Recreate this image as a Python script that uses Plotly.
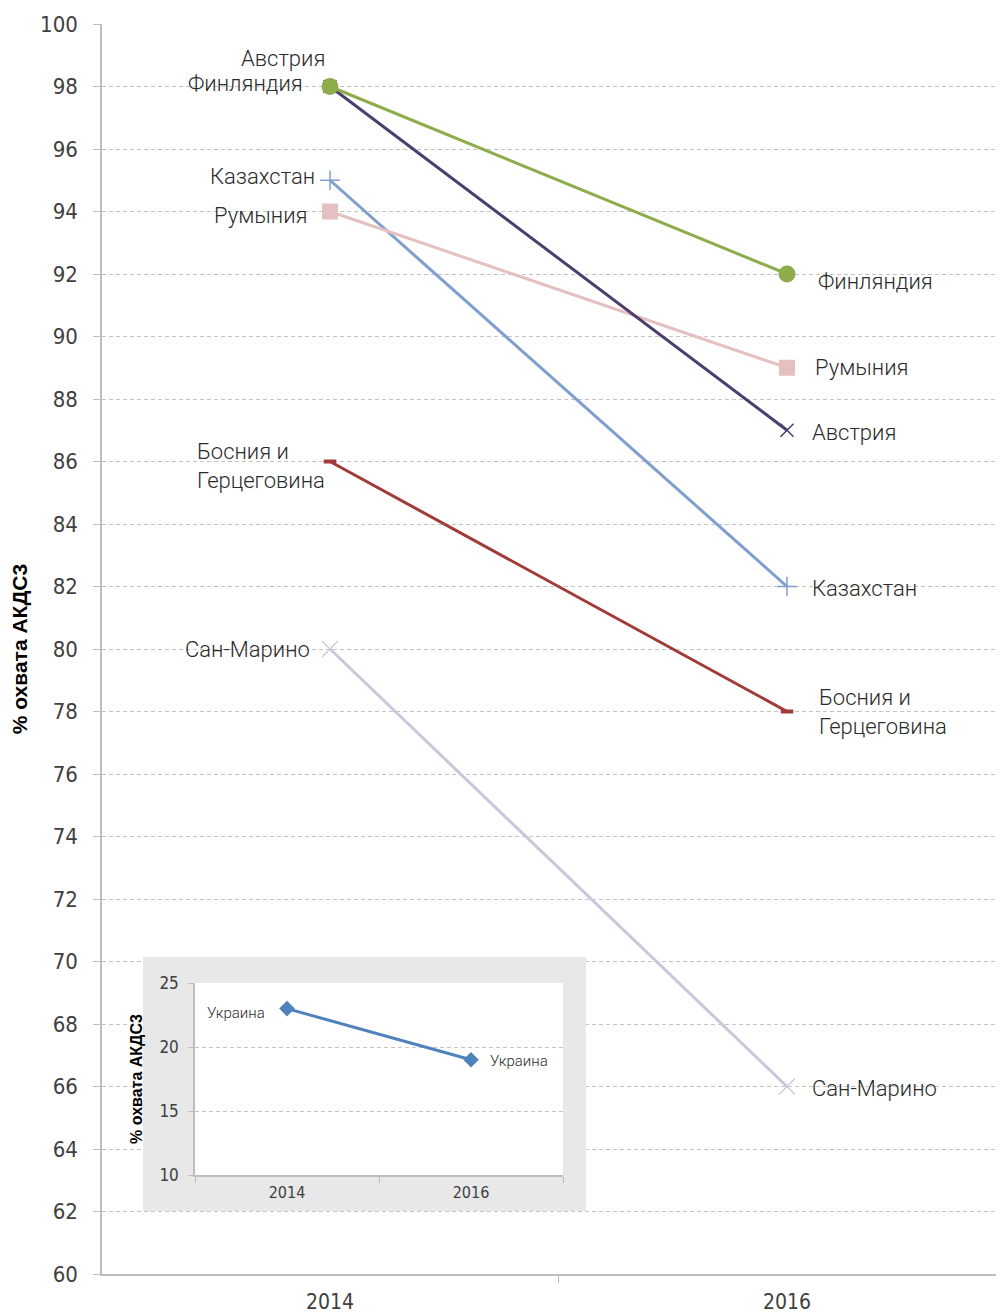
import plotly.graph_objects as go

# ---------------- data ----------------
years = ["2014", "2016"]
countries = ["Австрия", "Финляндия", "Казахстан", "Румыния", "Босния и<br>Герцеговина", "Сан-Марино"]
val_2014 = [98, 98, 95, 94, 86, 80]
val_2016 = [87, 92, 82, 89, 78, 66]

inset_country = "Украина"
inset_2014 = 23
inset_2016 = 19

y_title = "% охвата АКДС3"
main_ticks = list(range(60, 101, 2))
inset_ticks = [10, 15, 20, 25]

# ---------------- styles ----------------
colors = ["#4B3D6E", "#8DAD4C", "#7F9ED0", "#E4C0C0", "#A03B37", "#CBC7DB"]
markers = [
    dict(symbol="x-thin-open", size=13, line=dict(width=1.5, color=colors[0])),
    dict(symbol="circle", size=17, color=colors[1]),
    dict(symbol="cross-thin-open", size=14, line=dict(width=1.5, color=colors[2])),
    dict(symbol="square", size=16, color=colors[3]),
    dict(symbol="line-ew-open", size=9, line=dict(width=4, color=colors[4])),
    dict(symbol="x-thin-open", size=16, line=dict(width=1.2, color=colors[5])),
]
# label offsets (px): (xshift, yshift) for left (2014) and right (2016) labels
left_off = [(-3, 28), (-25, 3), (-13, 4), (-21, -4), (-3, -4), (-18, 0)]
right_off = [(23, -2), (29, -7), (23, -2), (26, 0), (30, 0), (23, -2)]

label_font = dict(family="Roboto, 'Noto Sans', sans-serif", size=22, color="#2b2b2b", weight=300)
tick_family = "'Liberation Sans Narrow', 'DejaVu Sans Condensed', Roboto, sans-serif"
grid_c = "#c4c4c4"
axis_c = "#bdbdbd"

fig = go.Figure()

# draw order: lighter lines beneath
order = [5, 4, 2, 3, 0, 1]
for i in order:
    fig.add_trace(go.Scatter(
        x=years, y=[val_2014[i], val_2016[i]],
        mode="lines+markers",
        line=dict(color=colors[i], width=3),
        marker=markers[i],
        name=countries[i].replace("<br>", " "), showlegend=False, cliponaxis=False,
        xaxis="x", yaxis="y",
    ))

annotations = []
for i, name in enumerate(countries):
    annotations.append(dict(
        x=0, y=val_2014[i], xref="x", yref="y", text=name,
        showarrow=False, xanchor="right", yanchor="middle", align="left",
        xshift=left_off[i][0], yshift=left_off[i][1], font=label_font,
    ))
    annotations.append(dict(
        x=1, y=val_2016[i], xref="x", yref="y", text=name,
        showarrow=False, xanchor="left", yanchor="middle", align="left",
        xshift=right_off[i][0], yshift=right_off[i][1], font=label_font,
    ))

# dummy subplot hosting the gray inset frame
fig.add_trace(go.Scatter(x=[], y=[], xaxis="x2", yaxis="y2", showlegend=False))

# inset chart
fig.add_trace(go.Scatter(
    x=years, y=[inset_2014, inset_2016], mode="lines+markers",
    line=dict(color="#4F81BD", width=3),
    marker=dict(symbol="diamond", size=12, color="#4F81BD"),
    name=inset_country, showlegend=False, cliponaxis=False, xaxis="x3", yaxis="y3",
))
inset_font = dict(family="Roboto, 'Noto Sans', sans-serif", size=15, color="#2b2b2b", weight=300)
annotations.append(dict(x=0, y=inset_2014, xref="x3", yref="y3", text=inset_country,
                        showarrow=False, xanchor="right", yanchor="middle",
                        xshift=-20, yshift=-4, font=inset_font))
annotations.append(dict(x=1, y=inset_2016, xref="x3", yref="y3", text=inset_country,
                        showarrow=False, xanchor="left", yanchor="middle",
                        xshift=17, yshift=-1, font=inset_font))

shapes = [
    dict(type="rect", xref="x2", yref="y2", x0=0, x1=1, y0=0, y1=1,
         fillcolor="#e8e8e8", line=dict(width=0), layer="below"),
]

# page has an 8px body margin; work in page pixels and convert
OFF = 8
W, H = 1004 - OFF, 1316 - OFF
plot_left, plot_right, plot_top, plot_bottom = 102, 1004, 24, 1274
ml = plot_left - OFF
mt = plot_top - OFF
mb = (1316 - plot_bottom)
pw = plot_right - plot_left
ph = plot_bottom - plot_top

def px_x(p):
    return (p - plot_left) / pw

def px_y(p):
    return (plot_bottom - p) / ph

fig.update_layout(
    width=W, height=H,
    margin=dict(l=ml, r=0, t=mt, b=mb, autoexpand=False),
    paper_bgcolor="white", plot_bgcolor="white",
    annotations=annotations, shapes=shapes,
    xaxis=dict(
        type="category", range=[-0.4989, 1.4748], domain=[0, 1],
        showgrid=False, zeroline=False,
        showline=True, linecolor=axis_c, linewidth=1.5,
        ticks="outside", tickson="boundaries", ticklen=7, tickcolor=axis_c,
        ticklabelstandoff=8,
        tickfont=dict(family=tick_family, size=21, color="#404040", weight=300),
        anchor="y",
    ),
    yaxis=dict(
        range=[60, 100], tickvals=main_ticks, domain=[0, 1],
        showgrid=True, gridcolor=grid_c, griddash="4px,3px", gridwidth=1,
        zeroline=False, showline=True, linecolor=axis_c, linewidth=1.5,
        ticks="outside", ticklen=7, tickcolor=axis_c, ticklabelstandoff=11,
        tickfont=dict(family=tick_family, size=22, color="#404040", weight=300),
        title=dict(text=y_title, standoff=12,
                   font=dict(family="'Liberation Sans', Arial, sans-serif", size=21, color="#000000", weight="bold")),
        anchor="x",
    ),
    xaxis2=dict(domain=[px_x(143), px_x(586)], range=[0, 1], visible=False,
                fixedrange=True, anchor="y2"),
    yaxis2=dict(domain=[px_y(1211), px_y(957)], range=[0, 1], visible=False,
                fixedrange=True, anchor="x2"),
    xaxis3=dict(
        type="category", domain=[px_x(195), px_x(563)], range=[-0.5, 1.5],
        showgrid=False, zeroline=False, showline=True, linecolor=axis_c, linewidth=1.5,
        ticks="outside", tickson="boundaries", ticklen=6, tickcolor=axis_c,
        ticklabelstandoff=2,
        tickfont=dict(family=tick_family, size=16, color="#404040", weight=300),
        anchor="y3",
    ),
    yaxis3=dict(
        range=[10, 25], tickvals=inset_ticks, domain=[px_y(1175), px_y(983)],
        showgrid=True, gridcolor=grid_c, griddash="4px,3px",
        zeroline=False, showline=True, linecolor=axis_c, linewidth=1.5,
        ticks="outside", ticklen=5, tickcolor=axis_c, ticklabelstandoff=6,
        tickfont=dict(family=tick_family, size=17, color="#404040", weight=300),
        title=dict(text=y_title, standoff=13,
                   font=dict(family="'Liberation Sans', Arial, sans-serif", size=16, color="#000000", weight="bold")),
        anchor="x3",
    ),
)

fig.write_html("out.html")
